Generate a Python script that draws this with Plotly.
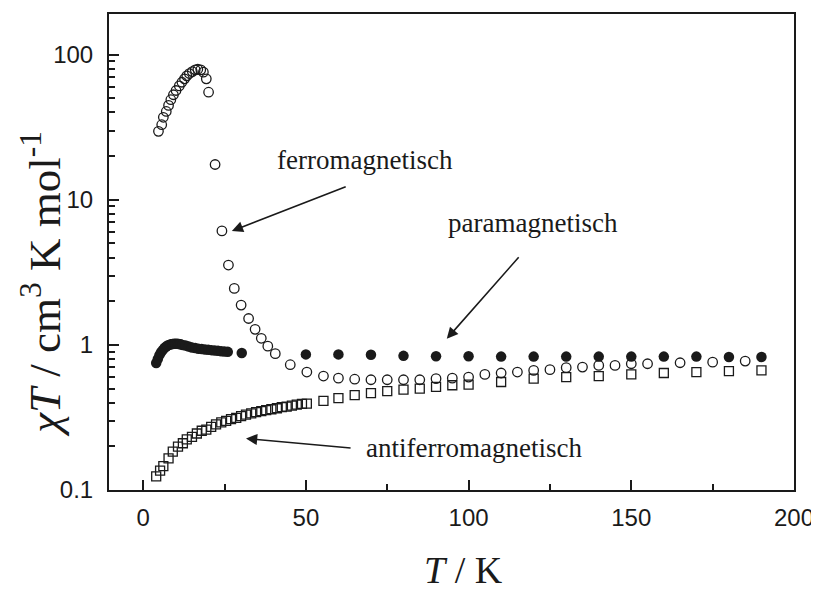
import plotly.graph_objects as go

# ---- data ----
ferro_T = [4.7, 5.7, 6.2, 7.1, 7.8, 8.5, 9.3, 10.1, 11.1, 11.9, 12.7, 13.4, 14.2, 15.1, 16.0,
           16.8, 17.7, 18.5, 19.4, 20.1, 22.1, 24.2, 26.2, 28.0, 30.1, 32.4, 34.4, 36.3, 38.3,
           40.6, 45.2, 50.3, 55.4, 60, 65, 70, 75, 80, 85, 90, 95, 100, 105, 110, 115, 120,
           125, 130, 135, 140, 145, 150, 155, 165, 175, 185]
ferro_chiT = [29.6, 32.9, 37, 40.6, 44.7, 48.9, 52.9, 56.6, 60.9, 64.5, 68.1, 71.4, 74.1, 76.4,
              78.6, 79.3, 78.6, 75.7, 68.1, 55.1, 17.5, 6.1, 3.55, 2.45, 1.88, 1.52, 1.28, 1.11,
              0.98, 0.87, 0.73, 0.65, 0.61, 0.59, 0.58, 0.575, 0.575, 0.575, 0.575, 0.585, 0.59,
              0.60, 0.626, 0.64, 0.65, 0.667, 0.675, 0.697, 0.703, 0.722, 0.722, 0.741, 0.741,
              0.753, 0.76, 0.773]

para_T = [4.0, 4.5, 5.0, 5.5, 6.0, 6.5, 7.0, 7.5, 8.0, 8.5, 9.0, 9.5, 10.0, 10.5, 11.0, 11.5,
          12, 13, 14, 15, 16, 17, 18, 19, 20, 21, 22, 23, 24, 25, 26, 30.3,
          50, 60, 70, 80, 90, 100, 110, 120, 130, 140, 150, 160, 170, 180, 190]
para_chiT = [0.75, 0.80, 0.85, 0.89, 0.92, 0.95, 0.97, 0.99, 1.0, 1.01, 1.015, 1.02, 1.02, 1.02,
             1.015, 1.01, 1.0, 0.99, 0.975, 0.96, 0.95, 0.94, 0.935, 0.93, 0.925, 0.92, 0.915,
             0.91, 0.905, 0.90, 0.895, 0.88,
             0.86, 0.86, 0.855, 0.84, 0.835, 0.835, 0.83, 0.83, 0.83, 0.83, 0.83, 0.83, 0.83,
             0.825, 0.825]

afm_T = [4.0, 5.2, 6.2, 7.8, 9.1, 10.7, 12.2, 13.4, 15.0, 16.5, 18.0, 19.4, 20.9, 22.4, 24.0,
         25.5, 27.0, 28.6, 30.1, 31.6, 33.2, 34.7, 36.3, 37.8, 39.4, 41.1, 42.6, 44.1, 45.7,
         47.2, 48.8, 50.3, 55.4, 60, 65, 70, 75, 80, 85, 90, 95, 100, 110, 120, 130, 140, 150,
         160, 170, 180, 190]
afm_chiT = [0.124, 0.136, 0.146, 0.165, 0.184, 0.199, 0.210, 0.223, 0.232, 0.245, 0.256, 0.261,
            0.272, 0.283, 0.292, 0.299, 0.308, 0.314, 0.323, 0.331, 0.337, 0.344, 0.349, 0.355,
            0.360, 0.366, 0.372, 0.376, 0.382, 0.388, 0.392, 0.394, 0.411, 0.43, 0.45, 0.465,
            0.48, 0.492, 0.50, 0.513, 0.527, 0.532, 0.555, 0.585, 0.60, 0.61, 0.626, 0.64, 0.65,
            0.66, 0.667]

x_ticks = [0, 50, 100, 150, 200]
x_minor = [25, 75, 125, 175]
y_ticks = [0.1, 1, 10, 100]
y_ticklabels = ["0.1", "1", "10", "100"]
y_minor = [m * d for d in (0.1, 1, 10) for m in range(2, 10)] + [200]

INK = "#1a1a1a"
SERIF = "Liberation Serif, Times New Roman, serif"
SANS = "Liberation Sans, Arial, sans-serif"

fig = go.Figure()
fig.add_trace(go.Scatter(x=ferro_T, y=ferro_chiT, mode="markers",
                         marker=dict(symbol="circle-open", size=9.5, color=INK,
                                     line=dict(width=1.3, color=INK))))
fig.add_trace(go.Scatter(x=para_T, y=para_chiT, mode="markers",
                         marker=dict(symbol="circle", size=10.5, color=INK)))
fig.add_trace(go.Scatter(x=afm_T, y=afm_chiT, mode="markers",
                         marker=dict(symbol="square-open", size=9, color=INK,
                                     line=dict(width=1.3, color=INK))))

axis_common = dict(showline=True, linewidth=2, linecolor=INK, mirror=True,
                   ticks="inside", tickwidth=2, tickcolor=INK, showgrid=False,
                   zeroline=False, tickfont=dict(family=SANS, size=24, color=INK))

fig.update_xaxes(range=[-10.5, 200], tickvals=x_ticks, ticklen=10, ticklabelstandoff=5,
                 minor=dict(tickvals=x_minor, ticks="inside", ticklen=6, tickwidth=2,
                            tickcolor=INK),
                 **axis_common)
fig.update_yaxes(type="log", range=[-1, 2.28], tickvals=y_ticks, ticktext=y_ticklabels,
                 ticklen=10, ticklabelstandoff=9,
                 minor=dict(tickvals=y_minor, ticks="inside", ticklen=6, tickwidth=1.5,
                            tickcolor=INK),
                 **axis_common)

anns = []
# axis titles
anns.append(dict(xref="paper", yref="paper", x=0.517, y=-0.168, xanchor="center",
                 yanchor="middle", text="<i>T</i> / K", showarrow=False,
                 font=dict(family=SERIF, size=38, color=INK)))
anns.append(dict(xref="paper", yref="paper", x=-0.098, y=0.433, xanchor="center",
                 yanchor="middle", textangle=-90,
                 text="<i>χT</i> / cm<sup>3</sup> K mol<sup>-1</sup>", showarrow=False,
                 font=dict(family=SERIF, size=45, color=INK)))
# labels
lab_font = dict(family=SERIF, size=27, color=INK)
for xx, yy, tt in [(68.1, 1.277, "ferromagnetisch"),
                   (119.8, 0.84, "paramagnetisch"),
                   (101.7, -0.711, "antiferromagnetisch")]:
    anns.append(dict(x=xx, y=yy, text=tt, showarrow=False, font=lab_font,
                     xanchor="center", yanchor="middle"))
# arrows
arrow_style = dict(text="", showarrow=True, arrowhead=2, arrowsize=1.4, arrowwidth=1.6,
                   arrowcolor=INK, axref="x", ayref="y", standoff=0)
anns.append(dict(x=27.25, y=0.785, ax=62.7, ay=1.094, **arrow_style))
anns.append(dict(x=93.3, y=0.042, ax=115.8, ay=0.614, **arrow_style))
anns.append(dict(x=31.6, y=-0.645, ax=64.2, ay=-0.711, **arrow_style))

fig.update_layout(width=811, height=583, margin=dict(l=101, r=25, t=4, b=101),
                  paper_bgcolor="white", plot_bgcolor="white", showlegend=False,
                  annotations=anns)

fig.write_html("out.html")
